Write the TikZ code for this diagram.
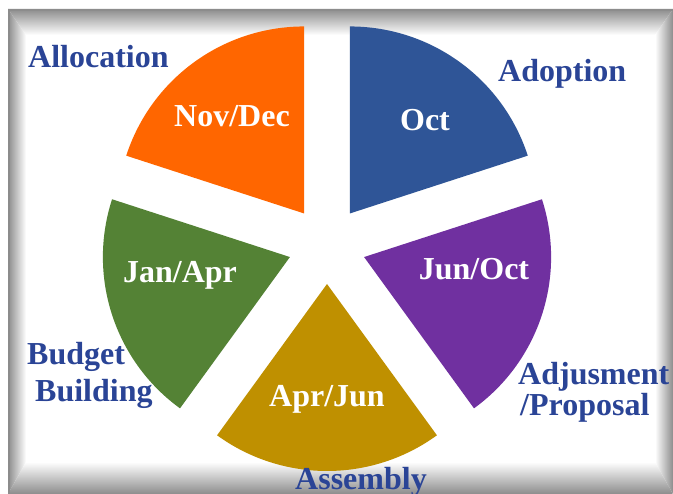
\documentclass[tikz,border=0pt]{standalone}
\usepackage{fontspec}
\setmainfont{Liberation Serif}
\usetikzlibrary{calc}
\definecolor{sliceorange}{HTML}{FF6600}
\definecolor{sliceblue}{HTML}{2F5597}
\definecolor{slicepurple}{HTML}{7030A0}
\definecolor{slicegreen}{HTML}{548235}
\definecolor{slicegold}{HTML}{BF9000}
\definecolor{labelblue}{HTML}{2A4496}
\definecolor{frameedge}{HTML}{8C8C8C}
\begin{document}
\begin{tikzpicture}[x=1pt,y=1pt,
  stage/.style={font=\bfseries\fontsize{32}{36}\selectfont, text=labelblue, inner sep=0pt},
  month/.style={font=\bfseries\fontsize{32}{36}\selectfont, text=white, inner sep=0pt},
  band/.style={draw=none}]
\useasboundingbox (0,0) rectangle (673,-494);
\fill[white] (0,0) rectangle (673,-494);

% bevelled frame: four shaded bands meeting on the diagonals
\shade[band, top color=frameedge, bottom color=white]
  (8,-9) -- (673,-9) -- (655,-35) -- (26,-35) -- cycle;
\shade[band, left color=frameedge, right color=white]
  (8,-9) -- (26,-35) -- (26,-462) -- (8,-494) -- cycle;
\shade[band, left color=white, right color=frameedge]
  (673,-9) -- (673,-494) -- (655,-462) -- (655,-35) -- cycle;
\shade[band, top color=white, bottom color=frameedge]
  (26,-462) -- (655,-462) -- (673,-494) -- (8,-494) -- cycle;
\draw[black!45, line width=1.5pt] (9,-494) -- (9,-10) -- (673,-10);

% exploded pie: five 72-degree slices pushed out along their bisectors
\def\cx{327}\def\cy{-245}\def\gap{39}\def\rad{187}
\foreach \ang/\col/\nm in {54/sliceblue/adoption, 126/sliceorange/allocation,
                            198/slicegreen/building, 270/slicegold/assembly,
                            342/slicepurple/adjustment}{
  \fill[\col] ($(\cx,\cy)+(\ang:\gap)$) coordinate (apex-\nm)
    -- ++(\ang-36:\rad) arc[start angle=\ang-36, end angle=\ang+36, radius=\rad]
    -- cycle;
}

% months inside the slices
\node[month, anchor=base] (m-nov) at (232,-127) {Nov/Dec};
\node[month, anchor=base] (m-oct) at (425,-131) {Oct};
\node[month, anchor=base] (m-jan) at (180,-283) {Jan/Apr};
\node[month, anchor=base] (m-jun) at (474,-280) {Jun/Oct};
\node[month, anchor=base] (m-apr) at (327,-407) {Apr/Jun};

% stage names around the pie
\node[stage, anchor=base west] (s-alloc) at (28,-68) {Allocation};
\node[stage, anchor=base west] (s-adopt) at (498,-82) {Adoption};
\node[stage, anchor=base west] (s-adj1) at (518,-385) {Adjusment};
\node[stage, anchor=base west] (s-adj2) at (520,-416) {/Proposal};
\node[stage, anchor=base west] (s-bud1) at (27,-365) {Budget};
\node[stage, anchor=base west] (s-bud2) at (35,-402) {Building};
\node[stage, anchor=base west] (s-asm) at (295,-490) {Assembly};
\end{tikzpicture}
\end{document}
